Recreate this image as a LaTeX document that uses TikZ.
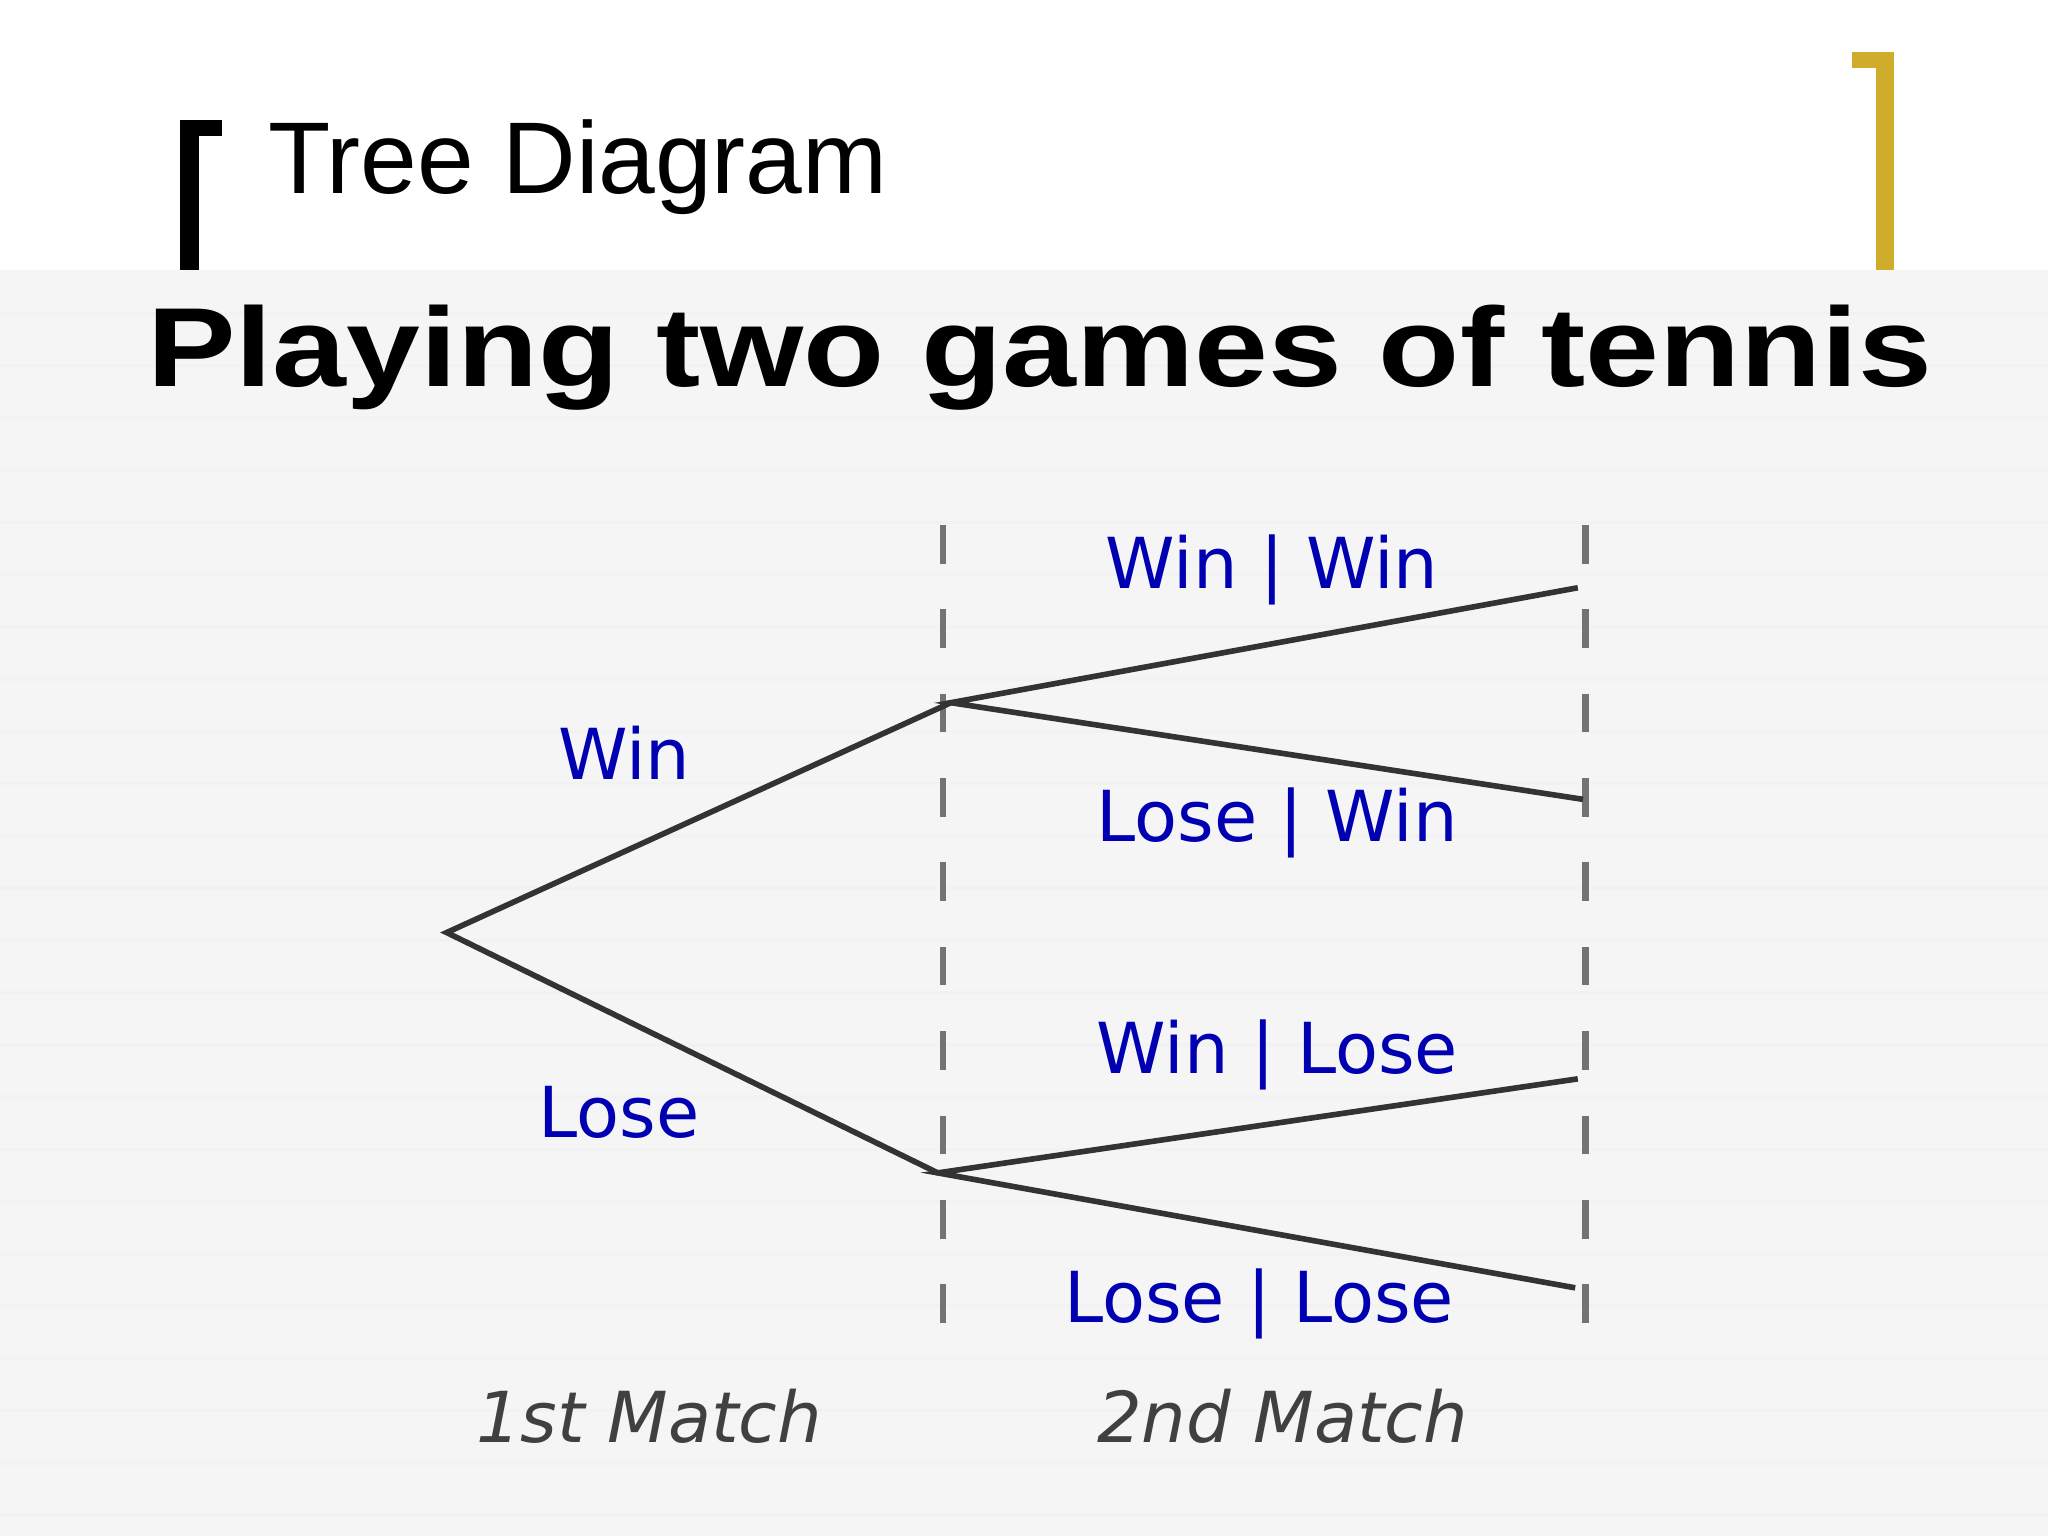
\documentclass[tikz,border=0pt]{standalone}
\usepackage{fontspec}
\setmainfont{Liberation Sans}
\newfontfamily\dejavu{DejaVu Sans}
\begin{document}
\begin{tikzpicture}[x=0.01306cm,y=-0.01306cm,
  branch/.style={line width=1.6pt,black!80},
  guide/.style={line width=1.8pt,black!55,dash pattern=on 11pt off 13pt},
  lbl/.style={text=blue!70!black,font=\dejavu\fontsize{20}{24}\selectfont},
  axis/.style={text=black!75,font=\dejavu\fontsize{20}{24}\selectfont\itshape}]
\useasboundingbox (0,0) rectangle (1568,1176);
\fill[white] (0,0) rectangle (1568,207);
\fill[black!4] (0,207) rectangle (1568,1176);
\foreach \yy in {240,280,...,1170} \draw[black!5,line width=1pt] (0,\yy) -- (1568,\yy);
% brackets
\fill[black] (138,92) rectangle (152,207);
\fill[black] (138,92) rectangle (170,104);
\fill[yellow!60!orange!80!black] (1436,40) rectangle (1450,207);
\fill[yellow!60!orange!80!black] (1418,40) rectangle (1450,52);
\node[anchor=west,font=\fontsize{29}{34}\selectfont] (title) at (196,128) {Tree Diagram};
\node[font=\fontsize{32}{36}\selectfont\bfseries,xscale=1.18] (sub) at (796,274) {Playing two games of tennis};
% guides
\coordinate (g1t) at (722,402); \coordinate (g1b) at (722,1040);
\coordinate (g2t) at (1214,402); \coordinate (g2b) at (1214,1040);
\draw[guide] (g1t) -- (g1b);
\draw[guide] (g2t) -- (g2b);
% tree
\coordinate (root) at (342,714);
\coordinate (w) at (728,538);
\coordinate (l) at (718,898);
\coordinate (ww) at (1208,450);
\coordinate (lw) at (1212,612);
\coordinate (wl) at (1208,826);
\coordinate (ll) at (1206,986);
\draw[branch] (w) -- (root) -- (l);
\draw[branch] (ww) -- (w) -- (lw);
\draw[branch] (wl) -- (l) -- (ll);
\node[lbl] (tw) at (478,576) {Win};
\node[lbl] (tl) at (474,852) {Lose};
\node[lbl] (tww) at (974,436) {Win | Win};
\node[lbl] (tlw) at (978,630) {Lose | Win};
\node[lbl] (twl) at (978,808) {Win | Lose};
\node[lbl] (tll) at (964,998) {Lose | Lose};
\node[axis] (m1) at (497,1084) {1st Match};
\node[axis] (m2) at (982,1084) {2nd Match};
\end{tikzpicture}
\end{document}
